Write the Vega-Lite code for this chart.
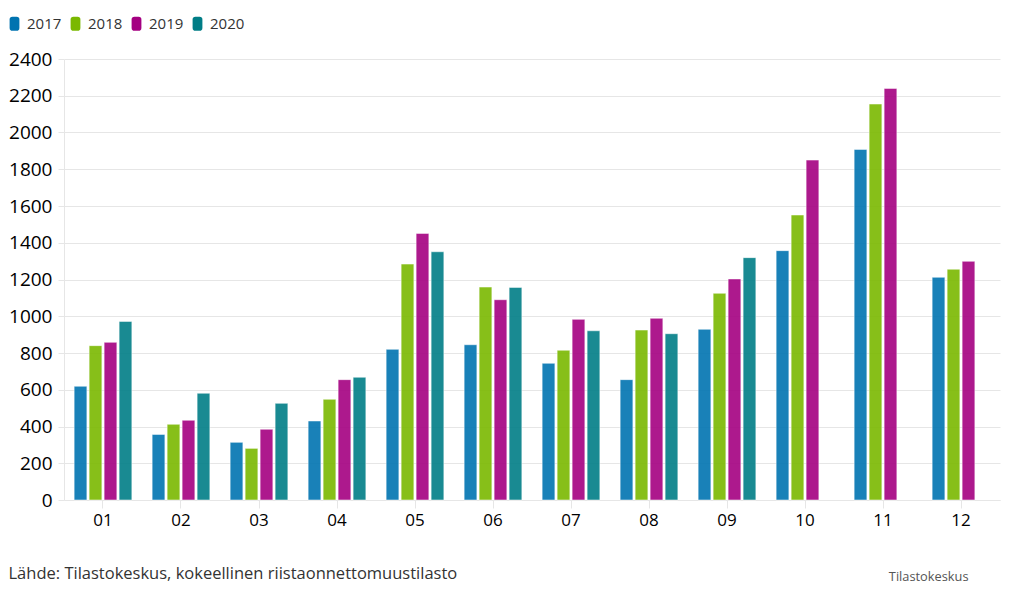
{
  "$schema": "https://vega.github.io/schema/vega-lite/v6.json",
  "autosize": {"type": "none"},
  "width": 936,
  "height": 441,
  "padding": {"left": 64, "top": 59, "right": 9, "bottom": 95},
  "background": "white",
  "config": {
    "font": "Open Sans",
    "view": {"stroke": null}
  },
  "data": {
    "values": [
      {"month": "01", "year": "2017", "value": 619},
      {"month": "01", "year": "2018", "value": 840},
      {"month": "01", "year": "2019", "value": 858},
      {"month": "01", "year": "2020", "value": 972},
      {"month": "02", "year": "2017", "value": 357},
      {"month": "02", "year": "2018", "value": 412},
      {"month": "02", "year": "2019", "value": 434},
      {"month": "02", "year": "2020", "value": 581},
      {"month": "03", "year": "2017", "value": 314},
      {"month": "03", "year": "2018", "value": 281},
      {"month": "03", "year": "2019", "value": 385},
      {"month": "03", "year": "2020", "value": 526},
      {"month": "04", "year": "2017", "value": 430},
      {"month": "04", "year": "2018", "value": 548},
      {"month": "04", "year": "2019", "value": 655},
      {"month": "04", "year": "2020", "value": 668},
      {"month": "05", "year": "2017", "value": 820},
      {"month": "05", "year": "2018", "value": 1284},
      {"month": "05", "year": "2019", "value": 1451},
      {"month": "05", "year": "2020", "value": 1351},
      {"month": "06", "year": "2017", "value": 845},
      {"month": "06", "year": "2018", "value": 1159},
      {"month": "06", "year": "2019", "value": 1090},
      {"month": "06", "year": "2020", "value": 1157},
      {"month": "07", "year": "2017", "value": 744},
      {"month": "07", "year": "2018", "value": 815},
      {"month": "07", "year": "2019", "value": 983},
      {"month": "07", "year": "2020", "value": 921},
      {"month": "08", "year": "2017", "value": 655},
      {"month": "08", "year": "2018", "value": 925},
      {"month": "08", "year": "2019", "value": 989},
      {"month": "08", "year": "2020", "value": 905},
      {"month": "09", "year": "2017", "value": 929},
      {"month": "09", "year": "2018", "value": 1125},
      {"month": "09", "year": "2019", "value": 1203},
      {"month": "09", "year": "2020", "value": 1319},
      {"month": "10", "year": "2017", "value": 1357},
      {"month": "10", "year": "2018", "value": 1551},
      {"month": "10", "year": "2019", "value": 1850},
      {"month": "11", "year": "2017", "value": 1908},
      {"month": "11", "year": "2018", "value": 2155},
      {"month": "11", "year": "2019", "value": 2240},
      {"month": "12", "year": "2017", "value": 1212},
      {"month": "12", "year": "2018", "value": 1256},
      {"month": "12", "year": "2019", "value": 1299}
    ]
  },
  "mark": {
    "type": "bar",
    "fillOpacity": 0.9,
    "stroke": "white",
    "strokeOpacity": 0.5,
    "strokeWidth": 1
  },
  "encoding": {
    "x": {
      "field": "month",
      "type": "nominal",
      "scale": {"paddingInner": 0.26, "paddingOuter": 0.13},
      "axis": {
        "title": "Tilastokeskus",
        "titleX": 904,
        "titleY": 76,
        "titleAlign": "right",
        "titleBaseline": "middle",
        "titleAnchor": null,
        "titleFontSize": 12.8,
        "titleFontWeight": "normal",
        "titleColor": "#555555",
        "labelAngle": 0,
        "labelFontSize": 17,
        "labelColor": "#000000",
        "labelPadding": 4,
        "domainColor": "#e6e6e6",
        "tickColor": "#e6e6e6",
        "tickSize": 8,
        "grid": false
      }
    },
    "xOffset": {
      "field": "year",
      "type": "nominal",
      "scale": {"domain": ["2017", "2018", "2019", "2020"], "paddingInner": 0.15, "paddingOuter": 0}
    },
    "y": {
      "field": "value",
      "type": "quantitative",
      "scale": {"domain": [0, 2400], "nice": false},
      "axis": {
        "title": "Lähde: Tilastokeskus, kokeellinen riistaonnettomuustilasto",
        "titleAngle": 0,
        "titleX": -56,
        "titleY": 514,
        "titleAlign": "left",
        "titleBaseline": "middle",
        "titleAnchor": null,
        "titleFontSize": 16.5,
        "titleFontWeight": "normal",
        "titleColor": "#333333",
        "values": [0, 200, 400, 600, 800, 1000, 1200, 1400, 1600, 1800, 2000, 2200, 2400],
        "format": "d",
        "labelFontSize": 19,
        "labelColor": "#000000",
        "labelPadding": 6,
        "ticks": true,
        "tickSize": 6,
        "tickColor": "#e6e6e6",
        "domain": true,
        "domainColor": "#e6e6e6",
        "gridColor": "#e6e6e6",
        "gridWidth": 1
      }
    },
    "color": {
      "field": "year",
      "type": "nominal",
      "scale": {
        "domain": ["2017", "2018", "2019", "2020"],
        "range": ["#0073b0", "#7ab800", "#a40081", "#007d86"]
      },
      "legend": {
        "title": null,
        "orient": "none",
        "direction": "horizontal",
        "legendX": -57,
        "legendY": -43,
        "symbolType": "M-0.7,-0.6 Q-0.7,-1 -0.3,-1 L0.3,-1 Q0.7,-1 0.7,-0.6 L0.7,0.6 Q0.7,1 0.3,1 L-0.3,1 Q-0.7,1 -0.7,0.6 Z",
        "symbolSize": 196,
        "symbolOpacity": 1,
        "symbolStrokeWidth": 0,
        "labelFontSize": 15,
        "labelColor": "#333333",
        "labelOffset": 5,
        "columnPadding": 6
      }
    }
  }
}
